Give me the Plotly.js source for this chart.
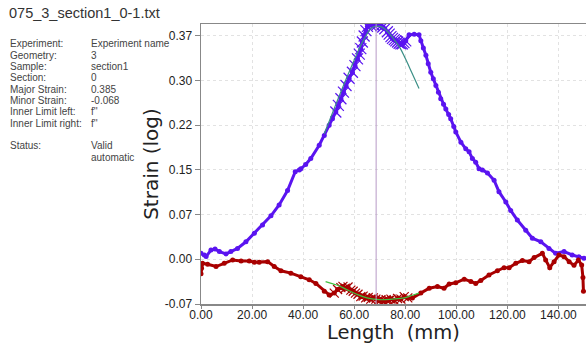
<!DOCTYPE html>
<html>
<head>
<meta charset="utf-8">
<script src="https://cdn.plot.ly/plotly-3.0.1.min.js"></script>
<style>html,body{margin:0;padding:0;background:#fff;}#chart{width:586px;height:344px;}</style>
</head>
<body>
<div id="chart"></div>
<script>
// ---- data ----
const fileTitle = "075_3_section1_0-1.txt";
const infoLabels = ["Experiment:", "Geometry:", "Sample:", "Section:", "Major Strain:", "Minor Strain:", "Inner Limit left:", "Inner Limit right:", "", "Status:", ""];
const infoValues = ["Experiment name", "3", "section1", "0", "0.385", "-0.068", "f''", "f''", "", "Valid", "automatic"];

const yTickVals = [-0.0741, 0, 0.0741, 0.1482, 0.2223, 0.2964, 0.3705];
const yTickText = ["-0.07", "0.00", "0.07", "0.15", "0.22", "0.30", "0.37"];
const xTickVals = [0, 20, 40, 60, 80, 100, 120, 140];
const xTickText = ["0.00", "20.00", "40.00", "60.00", "80.00", "100.00", "120.00", "140.00"];

const majorX = [0, 1.3, 2, 3.9, 5.5, 7.2, 9.8, 11.7, 14.3, 17.6, 20.9, 24.1, 27.4, 30.6, 33.9, 36.9, 38.5, 39.1, 41, 43.0, 46.3, 48.3, 50.2, 51.5, 52.8, 53.8, 54.8, 55.8, 56.8, 58, 59.3, 60.3, 61.3, 62.0, 62.6, 63.2, 63.9, 64.6, 65.2, 66.5, 67.8, 69, 70.5, 71.2, 72, 73, 73.7, 74.4, 75, 75.7, 76.3, 77, 77.6, 78.3, 78.9, 79.5, 80.2, 81.5, 83.5, 85.4, 86.1, 87.1, 88.1, 89, 90.0, 91, 92.0, 93, 93.9, 95, 95.9, 97, 97.8, 99, 99.8, 101.8, 103.7, 105, 106.3, 107.6, 108.9, 110.2, 112.2, 114.8, 116.7, 119.4, 121.3, 123.9, 127.2, 129.8, 133.1, 136.3, 138.9, 142.2, 145.4, 148, 150];
const majorY = [0.0099, 0.007, 0.0045, 0.0154, 0.017, 0.0127, 0.0088, 0.0127, 0.018, 0.029, 0.043, 0.057, 0.072, 0.090, 0.114, 0.145, 0.148, 0.150, 0.157, 0.167, 0.189, 0.205, 0.222, 0.233, 0.244, 0.255, 0.266, 0.277, 0.288, 0.300, 0.310, 0.321, 0.332, 0.340, 0.349, 0.360, 0.370, 0.379, 0.386, 0.388, 0.388, 0.389, 0.387, 0.385, 0.382, 0.377, 0.373, 0.369, 0.366, 0.364, 0.362, 0.360, 0.358, 0.357, 0.357, 0.359, 0.362, 0.372, 0.373, 0.372, 0.362, 0.350, 0.338, 0.324, 0.310, 0.299, 0.288, 0.277, 0.266, 0.257, 0.249, 0.240, 0.233, 0.220, 0.211, 0.194, 0.183, 0.178, 0.167, 0.161, 0.150, 0.148, 0.143, 0.131, 0.112, 0.095, 0.081, 0.065, 0.048, 0.035, 0.029, 0.018, 0.0099, 0.0127, 0.0071, 0.004, 0.0017];

const minorX = [0, 0.2, 0.6, 2.6, 5.9, 9.1, 12.4, 15.7, 18.9, 20.9, 22.8, 26.1, 28.7, 31.3, 35.2, 39.1, 42.4, 45, 48.3, 50.2, 52.2, 53.5, 54.8, 55.6, 56.5, 57.6, 58.7, 59.6, 60.5, 61.5, 62.6, 63.5, 64.5, 65.5, 66.5, 67.5, 68.5, 69.5, 70.5, 71.5, 72.5, 73.5, 74.4, 75.7, 77, 78.3, 79.6, 81, 82.8, 86.1, 89.4, 92.6, 95.2, 97.2, 99.8, 103.1, 105.7, 107.6, 109.6, 112.8, 116.1, 118.7, 120.7, 123.3, 125.9, 128.5, 130.5, 133.7, 135, 136.6, 138.3, 140.2, 142.2, 144.2, 146.1, 147.8, 149.1, 149.6, 149.8];
const minorY = [-0.024, -0.0149, -0.0066, -0.0083, -0.012, -0.0066, -0.0011, -0.0028, -0.0028, -0.005, -0.005, -0.0039, -0.012, -0.019, -0.023, -0.029, -0.034, -0.040, -0.053, -0.059, -0.056, -0.050, -0.047, -0.045, -0.048, -0.046, -0.051, -0.053, -0.056, -0.058, -0.062, -0.061, -0.064, -0.063, -0.066, -0.064, -0.066, -0.068, -0.067, -0.069, -0.067, -0.068, -0.066, -0.068, -0.065, -0.066, -0.062, -0.064, -0.064, -0.056, -0.048, -0.045, -0.048, -0.041, -0.039, -0.033, -0.037, -0.040, -0.035, -0.026, -0.019, -0.014, -0.014, -0.0066, -0.0022, -0.0039, 0.0028, 0.0099, -0.0011, -0.014, -0.0039, 0.0071, 0.0044, -0.0039, -0.010, -0.0011, -0.0094, -0.030, -0.053];

// fitted curves
const majorFitX = [48.3, 52, 56, 60, 64, 67, 70, 73, 76, 78, 80, 82.5, 85.4];
const majorFitY = [0.208, 0.248, 0.290, 0.330, 0.366, 0.384, 0.386, 0.378, 0.362, 0.350, 0.333, 0.310, 0.283];
const minorFitX = [48.8, 51, 53.5, 57, 61, 65, 70, 75, 79.6, 82.5, 85.4];
const minorFitY = [-0.037, -0.040, -0.043, -0.050, -0.058, -0.064, -0.067, -0.066, -0.064, -0.060, -0.056];

const fitLeft = 52, fitRight = 81;
const peakX = 68.6;

// ---- chart ----
const blue = "#5a14f0", red = "#a80000";
function inWin(xs, ys) {
  const ox = [], oy = [];
  xs.forEach((x, i) => { if (x >= fitLeft && x <= fitRight) { ox.push(x); oy.push(ys[i]); } });
  return [ox, oy];
}
const [mjCx, mjCy] = inWin(majorX, majorY);
const [mnCx, mnCy] = inWin(minorX, minorY);

const traces = [
  {x: majorX, y: majorY, mode: "lines+markers", line: {color: blue, width: 3}, marker: {color: blue, size: 5}, hoverinfo: "skip", showlegend: false},
  {x: minorX, y: minorY, mode: "lines+markers", line: {color: red, width: 3}, marker: {color: red, size: 5}, hoverinfo: "skip", showlegend: false},
  {x: mjCx, y: mjCy, mode: "markers", marker: {symbol: "x-thin", size: 11, line: {color: blue, width: 1.2}}, showlegend: false},
  {x: mnCx, y: mnCy, mode: "markers", marker: {symbol: "x-thin", size: 9, line: {color: red, width: 1.2}}, showlegend: false},
  {x: majorFitX, y: majorFitY, mode: "lines", line: {color: "#3a8f86", width: 1.2, shape: "spline"}, showlegend: false},
  {x: minorFitX, y: minorFitY, mode: "lines", line: {color: "#3fc13f", width: 1.2, shape: "spline"}, showlegend: false}
];

const L = 201, T = 24, W = 385, H = 280;
function px(x) { return (x - L) / W; }
function py(y) { return (T + H - y) / H; }

const annotations = [];
annotations.push({text: fileTitle, xref: "paper", yref: "paper", x: px(7), y: py(13), xanchor: "left", yanchor: "middle", showarrow: false, font: {family: "Liberation Sans, Arial, sans-serif", size: 14.5, color: "#333"}});
infoLabels.forEach((t, i) => {
  const yy = 44 + i * 11.3;
  if (t) annotations.push({text: t, xref: "paper", yref: "paper", x: px(8), y: py(yy), xanchor: "left", yanchor: "middle", showarrow: false, font: {family: "Liberation Sans, Arial, sans-serif", size: 10, color: "#444"}});
  if (infoValues[i]) annotations.push({text: infoValues[i], xref: "paper", yref: "paper", x: px(89), y: py(yy), xanchor: "left", yanchor: "middle", showarrow: false, font: {family: "Liberation Sans, Arial, sans-serif", size: 10, color: "#444"}});
});

const layout = {
  width: 586, height: 344,
  margin: {l: L, r: 0, t: T, b: 40},
  paper_bgcolor: "#fff", plot_bgcolor: "#fff",
  font: {family: "Liberation Sans, Arial, sans-serif", color: "#222"},
  xaxis: {
    range: [0, 150.8], tickvals: xTickVals, ticktext: xTickText,
    tickfont: {size: 12, color: "#222"}, ticks: "outside", ticklen: 3, tickcolor: "#888",
    ticklabelstandoff: -4,
    showgrid: true, gridcolor: "#e2e2e2", griddash: "dot", zeroline: false,
    showline: true, linecolor: "#888", linewidth: 1.5, mirror: true,
    title: {text: "Length\u00a0\u00a0(mm)\u00a0\u00a0\u00a0\u00a0\u00a0", font: {family: "DejaVu Sans, Verdana, sans-serif", size: 19.5, color: "#222"}, standoff: 6}
  },
  yaxis: {
    range: [-0.0741, 0.3899], tickvals: yTickVals, ticktext: yTickText,
    tickfont: {size: 12, color: "#222"}, ticks: "outside", ticklen: 5, tickcolor: "#888",
    showgrid: true, gridcolor: "#e2e2e2", griddash: "dot", zeroline: false,
    showline: true, linecolor: "#888", linewidth: 1.5,
    title: {text: "Strain (log)", font: {family: "DejaVu Sans, Verdana, sans-serif", size: 20, color: "#222"}, standoff: 0}
  },
  shapes: [{type: "line", xref: "x", yref: "paper", x0: peakX, x1: peakX, y0: 0, y1: 1, line: {color: "#b79ac6", width: 1}}],
  annotations: annotations
};
Plotly.newPlot("chart", traces, layout, {staticPlot: true, displayModeBar: false});
</script>
</body>
</html>
